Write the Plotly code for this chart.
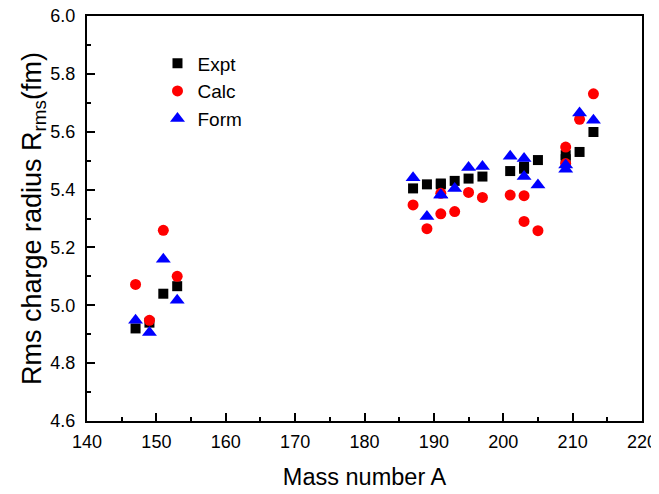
import plotly.graph_objects as go

# Mass numbers and rms charge radii (fm)
expt_A = [147, 149, 151, 153, 187, 189, 191, 191, 193, 195, 197, 201, 203, 203, 205, 209, 209, 211, 213]
expt_R = [4.920, 4.940, 5.040, 5.066, 5.404, 5.418, 5.421, 5.418, 5.430, 5.438, 5.445, 5.464, 5.479, 5.472, 5.502, 5.519, 5.505, 5.530, 5.599]

calc_A = [147, 149, 151, 153, 187, 189, 191, 191, 193, 195, 197, 201, 203, 203, 205, 209, 209, 211, 213]
calc_R = [5.072, 4.948, 5.259, 5.100, 5.347, 5.265, 5.387, 5.316, 5.324, 5.390, 5.373, 5.381, 5.379, 5.290, 5.258, 5.547, 5.490, 5.643, 5.731]

form_A = [147, 149, 151, 153, 187, 189, 191, 191, 193, 195, 197, 201, 203, 203, 205, 209, 209, 211, 213]
form_R = [4.948, 4.906, 5.159, 5.017, 5.441, 5.307, 5.381, 5.381, 5.404, 5.476, 5.480, 5.515, 5.507, 5.445, 5.416, 5.485, 5.470, 5.665, 5.640]

x_ticks = [140, 150, 160, 170, 180, 190, 200, 210, 220]
y_ticks = [4.6, 4.8, 5.0, 5.2, 5.4, 5.6, 5.8, 6.0]

FONT = "Liberation Sans, Arial, sans-serif"

fig = go.Figure()
fig.add_trace(go.Scatter(x=expt_A, y=expt_R, mode="markers", name="Expt",
                         marker=dict(symbol="square", size=10, color="black")))
fig.add_trace(go.Scatter(x=calc_A, y=calc_R, mode="markers", name="Calc",
                         marker=dict(symbol="circle", size=11, color="#FF0000")))
fig.add_trace(go.Scatter(x=form_A, y=form_R, mode="markers", name="Form",
                         marker=dict(symbol="triangle-up", size=13, color="#0000FF")))

axis_common = dict(
    showline=True, linecolor="black", linewidth=2, mirror=True,
    ticks="inside", ticklen=8, tickwidth=1.5, tickcolor="black",
    showgrid=False, zeroline=False, automargin=False,
    ticklabeloverflow="allow",
    tickfont=dict(family=FONT, size=18, color="black"),
)

fig.update_xaxes(
    range=[140, 220], tickvals=x_ticks, ticktext=[str(v) for v in x_ticks],
    minor=dict(ticks="inside", ticklen=4, dtick=5, tickcolor="black", tickwidth=1.5),
    ticklabelstandoff=3,
    title=dict(text="Mass number A", font=dict(family=FONT, size=23.5, color="black"), standoff=18),
    **axis_common,
)
fig.update_yaxes(
    range=[4.6, 6.0], tickvals=y_ticks, ticktext=[f"{v:.1f}" for v in y_ticks],
    minor=dict(ticks="inside", ticklen=4, dtick=0.1, tickcolor="black", tickwidth=1.5),
    ticklabelstandoff=6,
    title=dict(text="Rms charge radius R<sub>rms</sub>(fm)", font=dict(family=FONT, size=27, color="black"), standoff=0),
    **axis_common,
)

# the page places the figure 8 px in from the window's top-left corner
fig.update_layout(
    width=651, height=486,
    margin=dict(l=79, r=17, t=8, b=73, autoexpand=False),
    plot_bgcolor="white", paper_bgcolor="white",
    showlegend=True,
    legend=dict(x=0.127, y=0.93, xanchor="left", yanchor="top",
                font=dict(family=FONT, size=19, color="black"),
                bgcolor="rgba(0,0,0,0)"),
)

fig.write_html("out.html")
